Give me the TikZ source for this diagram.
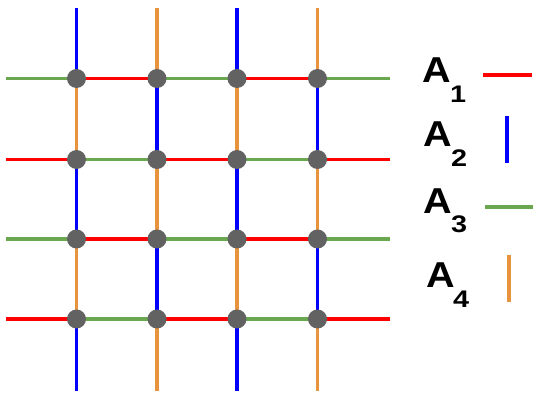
\documentclass[tikz,border=0pt]{standalone}
\usepackage{fontspec}
\setmainfont{Liberation Sans}
\usetikzlibrary{backgrounds}
\definecolor{cR}{HTML}{FF0000}
\definecolor{cB}{HTML}{0000FF}
\definecolor{cG}{HTML}{6AA84F}
\definecolor{cO}{HTML}{E8933E}
\definecolor{cDot}{HTML}{626262}
\begin{document}
\begin{tikzpicture}[x=1pt,y=-1pt,
  dot/.style={circle,fill=cDot,draw=none,minimum size=19pt,inner sep=0pt},
  seg/.style={line width=3.8pt},
  bigA/.style={inner sep=0pt,anchor=base west,font=\fontsize{36}{36}\selectfont\bfseries,xscale=1.1,transform shape},
  sub/.style={inner sep=0pt,anchor=base west,font=\fontsize{24}{24}\selectfont\bfseries,xscale=1.2,transform shape}]
\useasboundingbox (0,0) rectangle (533,393);
% columns and rows
\def\xa{76.5}\def\xb{157}\def\xc{237}\def\xd{317.5}
\def\ya{78.5}\def\yb{159.5}\def\yc{239}\def\yd{319}
\foreach \y [count=\i] in {\ya,\yb,\yc,\yd}{
  \foreach \x [count=\j] in {\xa,\xb,\xc,\xd}{
    \node[dot] (d-\i-\j) at (\x,\y) {};
  }
  \coordinate (h-\i-0) at (6,\y);
  \coordinate (h-\i-5) at (390,\y);
}
\foreach \x [count=\j] in {\xa,\xb,\xc,\xd}{
  \coordinate (v-0-\j) at (\x,8);
  \coordinate (v-5-\j) at (\x,391);
}
\begin{scope}[on background layer]
% horizontal segments
\foreach \i in {1,...,4}{
  \foreach \j in {0,...,4}{
    \pgfmathtruncatemacro{\jn}{\j+1}
    \pgfmathtruncatemacro{\pty}{mod(\i+\j,2)}
    \ifnum\j=0 \def\A{h-\i-0}\else \def\A{d-\i-\j}\fi
    \ifnum\jn=5 \def\B{h-\i-5}\else \def\B{d-\i-\jn}\fi
    \ifnum\pty=0 \def\col{cR}\else \def\col{cG}\fi
    \draw[seg,draw=\col] (\A.center) -- (\B.center);
  }
}
% vertical segments
\foreach \c in {1,...,4}{
  \foreach \k in {0,...,4}{
    \pgfmathtruncatemacro{\kn}{\k+1}
    \pgfmathtruncatemacro{\pty}{mod(\c+\k,2)}
    \ifnum\k=0 \def\A{v-0-\c}\else \def\A{d-\k-\c}\fi
    \ifnum\kn=5 \def\B{v-5-\c}\else \def\B{d-\kn-\c}\fi
    \ifnum\pty=1 \def\col{cB}\else \def\col{cO}\fi
    \draw[seg,draw=\col] (\A.center) -- (\B.center);
  }
}
\end{scope}
% legend
\node[bigA] (a1) at (422,83) {A};
\node[sub] (s1) at (450,103) {1};
\node[bigA] (a2) at (423,147) {A};
\node[sub] (s2) at (451,167) {2};
\node[bigA] (a3) at (423,213) {A};
\node[sub] (s3) at (451,233) {3};
\node[bigA] (a4) at (426,287) {A};
\node[sub] (s4) at (453,307) {4};
\coordinate (l1a) at (483,75);  \coordinate (l1b) at (532,75);
\coordinate (l2a) at (507,116); \coordinate (l2b) at (507,163);
\coordinate (l3a) at (485,207); \coordinate (l3b) at (533,207);
\coordinate (l4a) at (509,255); \coordinate (l4b) at (509,302);
\draw[seg,cR] (l1a) -- (l1b);
\draw[seg,cB] (l2a) -- (l2b);
\draw[seg,cG] (l3a) -- (l3b);
\draw[seg,cO] (l4a) -- (l4b);
\end{tikzpicture}
\end{document}
